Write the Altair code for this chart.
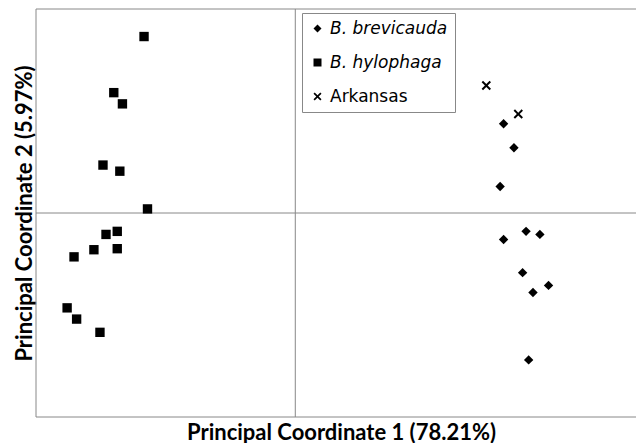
import altair as alt
import pandas as pd

# Data
hylophaga_x = [-0.175, -0.210, -0.200, -0.2225, -0.203, -0.171, -0.206, -0.219, -0.233, -0.206, -0.256, -0.264, -0.253, -0.226]
hylophaga_y = [0.173, 0.118, 0.107, 0.047, 0.041, 0.004, -0.018, -0.021, -0.036, -0.035, -0.043, -0.093, -0.104, -0.117]
brevicauda_x = [0.241, 0.253, 0.237, 0.267, 0.283, 0.241, 0.263, 0.293, 0.275, 0.270]
brevicauda_y = [0.0875, 0.064, 0.026, -0.018, -0.021, -0.026, -0.0585, -0.071, -0.078, -0.144]
arkansas_x = [0.221, 0.258]
arkansas_y = [0.125, 0.097]

series_names = ["B. brevicauda", "B. hylophaga", "Arkansas"]
x_cross = "M-0.7,-1L0,-0.3L0.7,-1L1,-0.7L0.3,0L1,0.7L0.7,1L0,0.3L-0.7,1L-1,0.7L-0.3,0L-1,-0.7Z"
shapes = ["diamond", "square", x_cross]

rows = []
for name, xs, ys in [("B. brevicauda", brevicauda_x, brevicauda_y),
                     ("B. hylophaga", hylophaga_x, hylophaga_y),
                     ("Arkansas", arkansas_x, arkansas_y)]:
    for a, b in zip(xs, ys):
        rows.append({"pc1": a, "pc2": b, "group": name})
df = pd.DataFrame(rows)

x_domain = [-0.3, 0.3942]
y_domain = [-0.2, 0.2]
xscale = alt.Scale(domain=x_domain, nice=False, zero=False)
yscale = alt.Scale(domain=y_domain, nice=False, zero=False)

xaxis = alt.Axis(title="Principal Coordinate 1 (78.21%)", domain=False, ticks=False,
                 labels=False, grid=False, titleFont="Lato", titleFontSize=22,
                 titleFontWeight="bold", titleColor="black", titlePadding=5,
                 titleX=305)
yaxis = alt.Axis(title="Principal Coordinate 2 (5.97%)", domain=False, ticks=False,
                 labels=False, grid=False, titleFont="Lato", titleFontSize=22,
                 titleFontWeight="bold", titleColor="black", titlePadding=0)

legend = alt.Legend(
    title=None, orient="none", legendX=266, legendY=4,
    strokeColor="#888888", fillColor="white", padding=7,
    labelFont="DejaVu Sans", labelFontSize=17, labelColor="black",
    labelFontStyle={"expr": "datum.label == 'Arkansas' ? 'normal' : 'italic'"},
    rowPadding=16, labelOffset=4, symbolSize=64,
    symbolFillColor="black", symbolStrokeWidth=0,
    labelLimit=300,
)

points = alt.Chart(df).mark_point(
    filled=True, color="black", opacity=1, strokeWidth=0, size=88
).encode(
    x=alt.X("pc1:Q", scale=xscale, axis=xaxis),
    y=alt.Y("pc2:Q", scale=yscale, axis=yaxis),
    shape=alt.Shape("group:N", scale=alt.Scale(domain=series_names, range=shapes), legend=legend),
)

vlines = alt.Chart(pd.DataFrame({"x": [x_domain[0], 0]})).mark_rule(
    color="#888888", strokeWidth=1).encode(x=alt.X("x:Q", scale=xscale))
hlines = alt.Chart(pd.DataFrame({"y": [y_domain[0], 0, y_domain[1]]})).mark_rule(
    color="#888888", strokeWidth=1).encode(y=alt.Y("y:Q", scale=yscale))

chart = alt.layer(vlines, hlines, points).properties(
    width=600, height=408,
    autosize=alt.AutoSizeParams(type="none"),
    padding={"left": 28, "top": 1, "right": 0, "bottom": 28},
).configure_view(stroke=None)

chart.save("out.html", embed_options={"renderer": "svg", "actions": False})
